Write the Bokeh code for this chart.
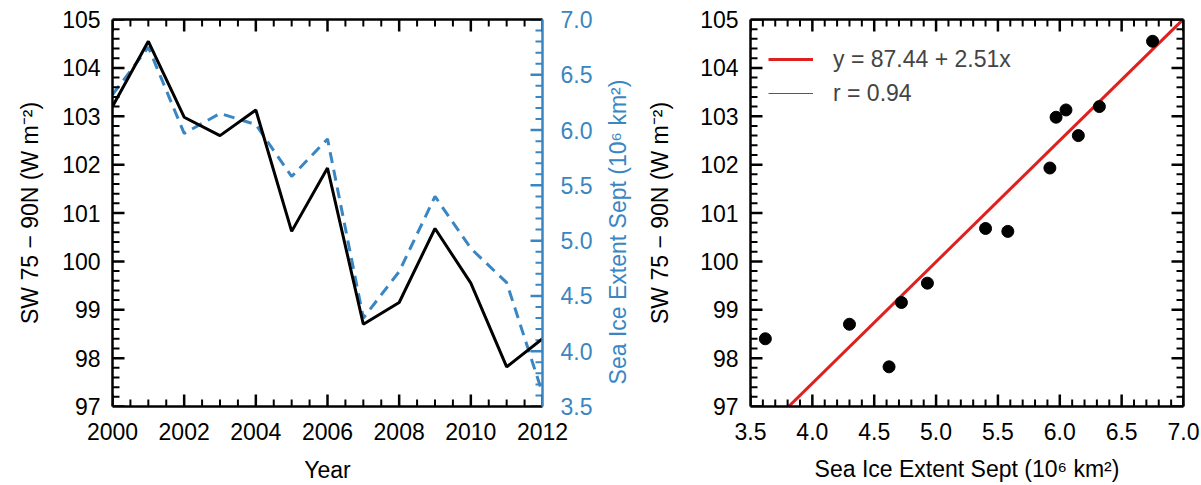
import numpy as np
from bokeh.plotting import figure
from bokeh.models import (Range1d, LinearAxis, SingleIntervalTicker, FixedTicker,
                          PrintfTickFormatter, Legend, LegendItem, Label)
from bokeh.layouts import row
from bokeh.embed import file_html
from bokeh.resources import INLINE

# ---- data ----
years = [2000, 2001, 2002, 2003, 2004, 2005, 2006, 2007, 2008, 2009, 2010, 2011, 2012]
sw = [103.2, 104.55, 102.98, 102.6, 103.13, 100.62, 101.93, 98.7, 99.15, 100.68, 99.55, 97.82, 98.4]
ice = [6.32, 6.75, 5.97, 6.15, 6.05, 5.58, 5.92, 4.30, 4.72, 5.40, 4.93, 4.62, 3.62]
intercept = 87.44
slope = 2.51
r_val = 0.94

year_lim = (2000, 2012)
sw_lim = (97, 105)
ice_lim = (3.5, 7.0)

sw_title = "SW 75 \u2212 90N (W m\u207b\u00b2)"
ice_title = "Sea Ice Extent Sept (10\u2076 km\u00b2)"

FONT = "Liberation Sans"
FS = "23px"
BLUE = "#3a86c2"
RED = "#e0201f"
FW1, FW2, FH = 430, 433, 387
TOP, BOTTOM = 19, 79


def style_axis(ax, color="black", fmt=None, label_standoff=12):
    ax.axis_line_width = 2.5
    ax.axis_line_color = color
    ax.major_tick_in = 0
    ax.major_tick_out = 0
    ax.minor_tick_in = 0
    ax.minor_tick_out = 0
    ax.major_tick_line_color = None
    ax.minor_tick_line_color = None
    ax.major_label_text_font = FONT
    ax.major_label_text_color = color
    ax.axis_label_text_font = FONT
    ax.axis_label_text_font_style = "normal"
    ax.axis_label_text_font_size = FS
    ax.axis_label_text_color = color
    if fmt is not None:
        ax.formatter = fmt
    ax.major_label_text_font_size = FS
    ax.major_label_standoff = label_standoff


def tick_vals(lim, step, nminor):
    major = np.arange(lim[0], lim[1] + step * 1e-6, step)
    minor_step = step / nminor
    allm = np.arange(lim[0], lim[1] + minor_step * 1e-6, minor_step)
    minor = [float(v) for v in allm if np.min(np.abs(major - v)) > 1e-6]
    return [float(v) for v in major], minor


def tick_geom(vals, ln, side, other_lim, frame_px):
    per_px = (other_lim[1] - other_lim[0]) / frame_px
    n = len(vals)
    if side in ("below", "above"):
        base = other_lim[0] if side == "below" else other_lim[1]
        sgn = 1 if side == "below" else -1
        return (list(vals), [float(base)] * n, list(vals), [float(base + sgn * ln * per_px)] * n)
    base = other_lim[0] if side == "left" else other_lim[1]
    sgn = 1 if side == "left" else -1
    return ([float(base)] * n, list(vals), [float(base + sgn * ln * per_px)] * n, list(vals))


def ticks_seg(p, lim, step, nminor, side, other_lim, frame_px, color, yname="default"):
    major, minor = tick_vals(lim, step, nminor)
    for vals, ln, lw in ((major, 12, 2.5), (minor, 7, 2.0)):
        x0, y0, x1, y1 = tick_geom(vals, ln, side, other_lim, frame_px)
        p.segment(x0=x0, y0=y0, x1=x1, y1=y1, line_color=color, line_width=lw,
                  y_range_name=yname)


def ticks_multi(p, lim, step, nminor, side, other_lim, frame_px, color="black"):
    major, minor = tick_vals(lim, step, nminor)
    for vals, ln, lw in ((major, 12, 2.5), (minor, 7, 2.0)):
        x0, y0, x1, y1 = tick_geom(vals, ln, side, other_lim, frame_px)
        p.multi_line(xs=[[a, c] for a, c in zip(x0, x1)], ys=[[b, d] for b, d in zip(y0, y1)],
                     line_color=color, line_width=lw)


def ticks_dash(p, lim, step, nminor, side, other_lim, color="black"):
    """dash markers centred on the frame edge; the outer half is clipped by the frame"""
    major, minor = tick_vals(lim, step, nminor)
    for vals, ln, lw in ((major, 12, 2.5), (minor, 7, 2.0)):
        n = len(vals)
        if side in ("below", "above"):
            base = other_lim[0] if side == "below" else other_lim[1]
            xs, ys, ang = list(vals), [float(base)] * n, 90
        else:
            base = other_lim[0] if side == "left" else other_lim[1]
            xs, ys, ang = [float(base)] * n, list(vals), 0
        p.scatter(x=xs, y=ys, marker="dash", size=2 * ln, angle=ang, angle_units="deg",
                  line_color=color, line_width=lw, fill_color=None)


def frame_axis(p, side, color="black", **kw):
    ax = LinearAxis(ticker=FixedTicker(ticks=[]), **kw)
    style_axis(ax, color=color)
    p.add_layout(ax, side)
    return ax


# ---- left panel ----
p1 = figure(frame_width=FW1, frame_height=FH,
            x_range=Range1d(*year_lim), y_range=Range1d(*sw_lim),
            output_backend="svg", toolbar_location=None,
            min_border_left=112, min_border_right=60, min_border_top=TOP, min_border_bottom=BOTTOM,
            x_axis_location=None, y_axis_location=None)
p1.outline_line_color = None
p1.grid.visible = False
p1.extra_y_ranges = {"ice": Range1d(*ice_lim)}

ax_b = LinearAxis(ticker=SingleIntervalTicker(interval=2, num_minor_ticks=4), axis_label="Year")
style_axis(ax_b, fmt=PrintfTickFormatter(format="%d"), label_standoff=16)
ax_b.axis_label_standoff = 14
p1.add_layout(ax_b, "below")
frame_axis(p1, "above")
ax_l = LinearAxis(ticker=SingleIntervalTicker(interval=1, num_minor_ticks=5), axis_label=sw_title)
style_axis(ax_l, fmt=PrintfTickFormatter(format="%d"), label_standoff=12)
ax_l.axis_label_standoff = 16
p1.add_layout(ax_l, "left")
ax_r = LinearAxis(ticker=SingleIntervalTicker(interval=0.5, num_minor_ticks=5), y_range_name="ice")
style_axis(ax_r, color=BLUE, fmt=PrintfTickFormatter(format="%.1f"), label_standoff=18)
p1.add_layout(ax_r, "right")

ticks_seg(p1, ice_lim, 0.5, 5, "right", year_lim, FW1, BLUE, yname="ice")
p1.line(years, ice, y_range_name="ice", line_color=BLUE, line_width=3, line_dash="11 7")
p1.line(years, sw, line_color="black", line_width=3)
ticks_multi(p1, year_lim, 2, 4, "below", sw_lim, FH)
ticks_multi(p1, year_lim, 2, 4, "above", sw_lim, FH)
ticks_multi(p1, sw_lim, 1, 5, "left", year_lim, FW1)

# ---- narrow strip holding the blue right-axis title ----
MW = 30
H = TOP + FH + BOTTOM
pm = figure(frame_width=MW, frame_height=H, x_range=Range1d(0, MW), y_range=Range1d(0, H),
            output_backend="svg", toolbar_location=None, min_border=0,
            x_axis_location=None, y_axis_location=None)
pm.outline_line_color = None
pm.grid.visible = False
pm.add_layout(Label(x=MW / 2, y=BOTTOM + FH / 2, text=ice_title, angle=90, angle_units="deg",
                    text_align="center", text_baseline="middle", text_color=BLUE,
                    text_font=FONT, text_font_size=FS))

# ---- right panel ----
p2 = figure(frame_width=FW2, frame_height=FH,
            x_range=Range1d(*ice_lim), y_range=Range1d(*sw_lim),
            output_backend="svg", toolbar_location=None,
            min_border_left=118, min_border_right=18, min_border_top=TOP, min_border_bottom=BOTTOM,
            x_axis_location=None, y_axis_location=None)
p2.outline_line_color = None
p2.grid.visible = False

bx = LinearAxis(ticker=SingleIntervalTicker(interval=0.5, num_minor_ticks=5), axis_label=ice_title)
style_axis(bx, fmt=PrintfTickFormatter(format="%.1f"), label_standoff=16)
bx.axis_label_standoff = 13
p2.add_layout(bx, "below")
frame_axis(p2, "above")
ly = LinearAxis(ticker=SingleIntervalTicker(interval=1, num_minor_ticks=5), axis_label=sw_title)
style_axis(ly, fmt=PrintfTickFormatter(format="%d"), label_standoff=12)
ly.axis_label_standoff = 24
p2.add_layout(ly, "left")
frame_axis(p2, "right")

reg_x = list(ice_lim)
reg_y = [intercept + slope * v for v in reg_x]
thick = p2.line(reg_x, reg_y, line_color=RED, line_width=3)
thin = p2.line(reg_x, reg_y, line_color=RED, line_width=1)
p2.scatter(ice, sw, size=12, fill_color="black", line_color="black")

ticks_dash(p2, ice_lim, 0.5, 5, "below", sw_lim)
ticks_dash(p2, ice_lim, 0.5, 5, "above", sw_lim)
ticks_dash(p2, sw_lim, 1, 5, "left", ice_lim)
ticks_dash(p2, sw_lim, 1, 5, "right", ice_lim)

legend = Legend(items=[LegendItem(label=f"y = {intercept:.2f} + {slope:.2f}x", renderers=[thick]),
                       LegendItem(label=f"r = {r_val:.2f}", renderers=[thin])],
                location=(18, 296), border_line_color=None, background_fill_alpha=0,
                label_text_font=FONT, label_text_font_size=FS,
                glyph_width=45, glyph_height=34, label_height=34, spacing=0,
                label_standoff=20, margin=0, padding=5)
p2.add_layout(legend)

layout = row(p1, pm, p2)
open("out.html", "w").write(file_html(layout, INLINE))
